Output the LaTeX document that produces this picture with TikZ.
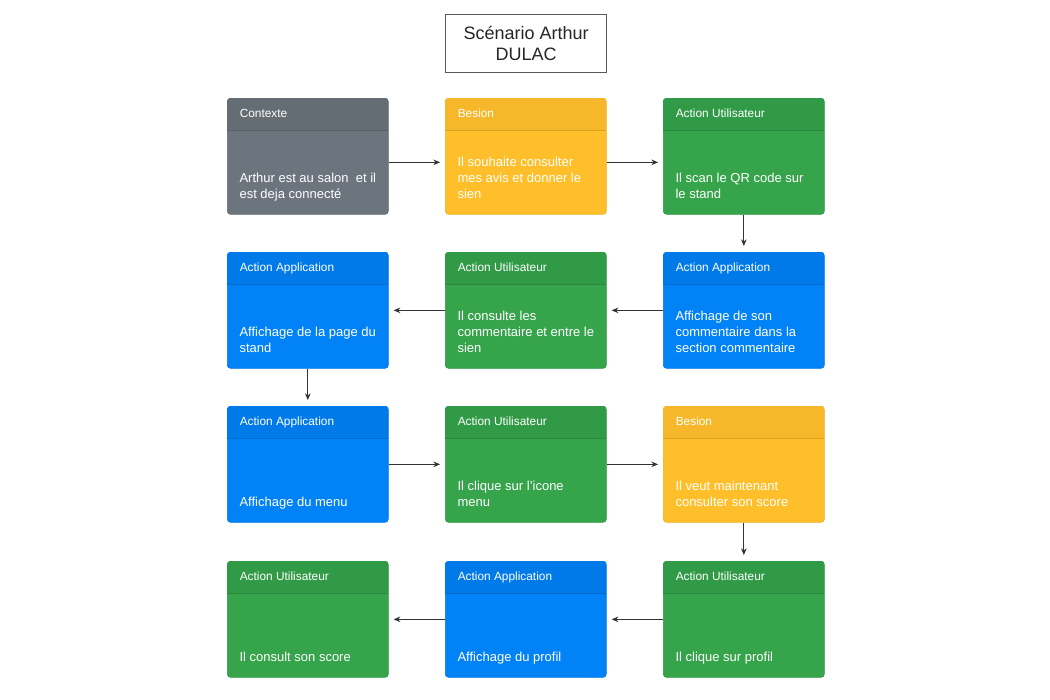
\documentclass[tikz,border=0pt]{standalone}
\usepackage{fontspec}
\setmainfont{Liberation Sans}
\usetikzlibrary{arrows.meta}
\definecolor{cgray}{HTML}{6C757D}
\definecolor{hgray}{HTML}{656D74}
\definecolor{cyel}{HTML}{FFBF2A}
\definecolor{hyel}{HTML}{F6B82A}
\definecolor{cgreen}{HTML}{35A44B}
\definecolor{hgreen}{HTML}{319A47}
\definecolor{cblue}{HTML}{0282F7}
\definecolor{hblue}{HTML}{017AE9}
\definecolor{arrowc}{HTML}{333333}
\tikzset{
  card/.style={rectangle, rounded corners=2.5pt, minimum width=120.75pt, minimum height=87pt, inner sep=0pt, line width=0.5pt},
  hdr/.style={text=white, font=\fontsize{8.9}{10.5}\selectfont, inner sep=0pt, anchor=base west},
  bodytxt/.style={text=white, font=\fontsize{9.75}{12}\selectfont, inner sep=0pt, align=left, anchor=south west},
  flow/.style={draw=arrowc, line width=0.6pt, -{Stealth[length=5pt,width=4.2pt]}},
  titlebox/.style={draw=black!65, line width=0.8pt, minimum width=120.75pt, minimum height=43.5pt, inner sep=0pt, align=center, font=\fontsize{13.5}{15.75}\selectfont, text=black!85}
}
\newcommand\mycard[7]{%
  \node[card, fill=#4, draw=#4!92!black, anchor=north west] (#1) at (#2,#3) {};
  \begin{scope}
    \clip[rounded corners=2.5pt] (#1.north west) rectangle (#1.south east);
    \fill[#5] (#1.north west) rectangle ([yshift=-24pt]#1.north east);
    \draw[#5!88!black, line width=0.5pt] ([yshift=-24pt]#1.north west) -- ([yshift=-24pt]#1.north east);
  \end{scope}
  \node[hdr] (#1h) at ([xshift=9.4pt,yshift=-14.5pt]#1.north west) {#6};
  \node[bodytxt] (#1b) at ([xshift=9.2pt,yshift=8.1pt]#1.south west) {#7\strut};
}
\begin{document}
\begin{tikzpicture}[x=0.75pt,y=-0.75pt]
\useasboundingbox[fill=white] (0,0) rectangle (1050,700);
\node[titlebox, anchor=north west] (title) at (445,14) {Scénario Arthur\\DULAC};
% row 1
\mycard{a}{227}{98}{cgray}{hgray}{Contexte}{Arthur est au salon\ \ et il\\est deja connecté}
\mycard{b}{445}{98}{cyel}{hyel}{Besion}{Il souhaite consulter\\mes avis et donner le\\sien}
\mycard{c}{663}{98}{cgreen}{hgreen}{Action Utilisateur}{Il scan le QR code sur\\le stand}
% row 2
\mycard{d}{227}{252}{cblue}{hblue}{Action Application}{Affichage de la page du\\stand}
\mycard{e}{445}{252}{cgreen}{hgreen}{Action Utilisateur}{Il consulte les\\commentaire et entre le\\sien}
\mycard{f}{663}{252}{cblue}{hblue}{Action Application}{Affichage de son\\commentaire dans la\\section commentaire}
% row 3
\mycard{g}{227}{406}{cblue}{hblue}{Action Application}{Affichage du menu}
\mycard{h}{445}{406}{cgreen}{hgreen}{Action Utilisateur}{Il clique sur l'icone\\menu}
\mycard{i}{663}{406}{cyel}{hyel}{Besion}{Il veut maintenant\\consulter son score}
% row 4
\mycard{j}{227}{561}{cgreen}{hgreen}{Action Utilisateur}{Il consult son score}
\mycard{k}{445}{561}{cblue}{hblue}{Action Application}{Affichage du profil}
\mycard{l}{663}{561}{cgreen}{hgreen}{Action Utilisateur}{Il clique sur profil}
% connectors
\draw[flow] ([yshift=-4.5pt]a.east) -- ([xshift=-3.75pt,yshift=-4.5pt]b.west);
\draw[flow] ([yshift=-4.5pt]b.east) -- ([xshift=-3.75pt,yshift=-4.5pt]c.west);
\draw[flow] (c.south) -- ([yshift=4.5pt]f.north);
\draw[flow] (f.west) -- ([xshift=3.75pt]e.east);
\draw[flow] (e.west) -- ([xshift=3.75pt]d.east);
\draw[flow] (d.south) -- ([yshift=4.5pt]g.north);
\draw[flow] (g.east) -- ([xshift=-3.75pt]h.west);
\draw[flow] (h.east) -- ([xshift=-3.75pt]i.west);
\draw[flow] (i.south) -- ([yshift=4.5pt]l.north);
\draw[flow] (l.west) -- ([xshift=3.75pt]k.east);
\draw[flow] (k.west) -- ([xshift=3.75pt]j.east);
\end{tikzpicture}
\end{document}
